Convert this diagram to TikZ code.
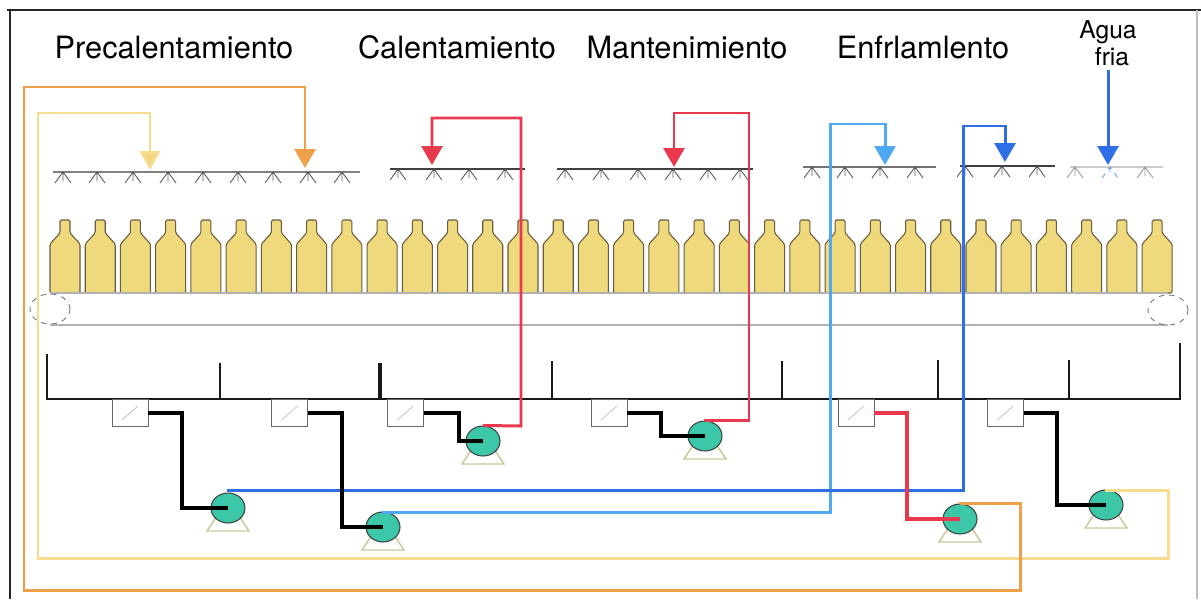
\documentclass[tikz,border=0pt]{standalone}
\usepackage{fontspec}
\setmainfont{TeX Gyre Heros}
\usetikzlibrary{arrows.meta,shapes.geometric}
\definecolor{bottlefill}{HTML}{EED97C}
\definecolor{bottleline}{HTML}{6B5A40}
\definecolor{paleyellow}{HTML}{F6DC8E}
\definecolor{palearrow}{HTML}{F3D680}
\definecolor{pipeorange}{HTML}{EFA04A}
\definecolor{pipered}{HTML}{E8394F}
\definecolor{pipelblue}{HTML}{4FA8F2}
\definecolor{pipeblue}{HTML}{2F6FE5}
\definecolor{pumpteal}{HTML}{3CC7A8}
\definecolor{standcol}{HTML}{C8C89A}
\begin{document}
\begin{tikzpicture}[x=0.02cm,y=-0.02cm,
  title/.style={font=\fontsize{17.5}{20}\selectfont, anchor=base, inner sep=0},
  smalltitle/.style={font=\fontsize{14}{16}\selectfont, anchor=base, inner sep=0},
  bar/.style={draw=black!75, line width=0.7pt},
  nozzle/.style={draw=black!65, line width=0.5pt},
  bottle/.style={draw=bottleline, fill=bottlefill, line width=0.6pt, rounded corners=0.8pt},
  belt/.style={draw=black!30, line width=0.6pt},
  roller/.style={draw=black!55, dashed, line width=0.5pt},
  tank/.style={draw=black!90, line width=1.2pt},
  filterbox/.style={draw=black!60, fill=white, line width=0.5pt, minimum width=0.72cm, minimum height=0.54cm, inner sep=0, anchor=north},
  pump/.style={ellipse, draw=black!75, fill=pumpteal, minimum width=0.68cm, minimum height=0.6cm, inner sep=0, line width=0.6pt},
  stand/.style={draw=standcol, line width=0.8pt},
  pipe/.style={line width=1.7pt, line join=miter},
  blackpipe/.style={draw=black, line width=2.3pt},
  tip/.style={-{Triangle[width=0.42cm,length=0.38cm]}}
]
\useasboundingbox (0,0) rectangle (1201,599);

% outer frame
\draw[black!85, line width=1.3pt] (7,10) -- (1201,10);
\draw[black!85, line width=1.3pt] (10,10) -- (10,599);
\draw[black!25, line width=0.8pt] (1197,10) -- (1197,599);

% section titles
\node[title] (tPre) at (174,58) {Precalentamiento};
\node[title] (tCal) at (457,58) {Calentamiento};
\node[title] (tMan) at (687,58) {Mantenimiento};
\node[title] (tEnf) at (923,58) {Enfrlamlento};
\node[smalltitle] (agua) at (1108,38) {Agua};
\node[smalltitle] (fria) at (1112,65) {fria};

% spray bars with nozzles
\draw[bar, draw=black!50] (53,172) -- (360,172);
\foreach \x in {63,97,133,168,203,238,273,308,342}
  \draw[nozzle] (\x-8,183) -- (\x,172) -- (\x+8,183) (\x,172) -- (\x,181);
\draw[bar] (390,169) -- (525,169);
\foreach \x in {398,434,469,505}
  \draw[nozzle] (\x-8,180) -- (\x,169) -- (\x+8,180) (\x,169) -- (\x,178);
\draw[bar] (557,169) -- (753,169);
\foreach \x in {565,601,638,673,708,740}
  \draw[nozzle] (\x-8,180) -- (\x,169) -- (\x+8,180) (\x,169) -- (\x,178);
\draw[bar, draw=black!55] (803,167) -- (936,167);
\foreach \x in {812,845,880,915}
  \draw[nozzle] (\x-8,178) -- (\x,167) -- (\x+8,178) (\x,167) -- (\x,176);
\draw[bar] (960,166) -- (1055,166);
\foreach \x in {965,1002,1037}
  \draw[nozzle] (\x-8,177) -- (\x,166) -- (\x+8,177) (\x,166) -- (\x,175);
\draw[bar, draw=black!20] (1070,167) -- (1163,167);
\foreach \x in {1075,1145}
  \draw[nozzle, draw=black!40] (\x-8,178) -- (\x,167) -- (\x+8,178) (\x,167) -- (\x,176);
\draw[nozzle, draw=pipeblue!70, dashed] (1102,178) -- (1110,167) -- (1118,178) (1110,167) -- (1110,178);

% bottles on the conveyor
\foreach \i in {0,...,31} {
  \pgfmathsetmacro\cx{65+35.23*\i}
  \draw[bottle] (\cx-15,293) -- (\cx-15,244) -- (\cx-5,233) -- (\cx-5,220)
    -- (\cx+5,220) -- (\cx+5,233) -- (\cx+15,244) -- (\cx+15,293) -- cycle;
}

% conveyor belt and rollers
\draw[belt] (50,293) -- (1168,293);
\draw[belt] (50,325) -- (1168,325);
\draw[roller] (50,309) ellipse [x radius=0.4cm, y radius=0.3cm];
\draw[roller] (1168,310) ellipse [x radius=0.4cm, y radius=0.3cm];

% collecting tank with partitions
\draw[tank] (47,354) -- (47,399) -- (1180,399) -- (1180,343);
\foreach \x/\t in {220/363, 552/361, 782/361, 938/360, 1069/360}
  \draw[tank] (\x,\t) -- (\x,399);
\draw[tank, line width=1.8pt] (380,363) -- (380,399);

% filters below the tank
\foreach \n/\x in {f1/130, f2/289.5, f3/405.5, f4/609, f5/856, f6/1005.5} {
  \node[filterbox] (\n) at (\x,399) {};
  \draw[black!25, line width=0.4pt] (\x-8,420) -- (\x+8,406);
}

% pumps on their stands
\foreach \n/\x/\y in {pA/228/508, pB/383/527, pC/483/441, pD/705/436, pE/960/519, pF/1106/505} {
  \draw[stand] (\x-11,\y+8) -- (\x-21,\y+23) -- (\x+21,\y+23) -- (\x+11,\y+8);
  \node[pump] (\n) at (\x,\y) {};
}

% arrow targets on the spray bars
\coordinate (sPre1) at (150,170);
\coordinate (sPre2) at (305,168);
\coordinate (sCal) at (432,165);
\coordinate (sMan) at (674,167);
\coordinate (sEnf1) at (885,165);
\coordinate (sEnf2) at (1005,162);
\coordinate (sAgua) at (1108,165);

% return pipes from pumps to spray bars
\draw[pipe, draw=paleyellow, tip, -{Triangle[width=0.4cm,length=0.38cm,fill=palearrow]}]
  (pF.north) |- (1168,490) -- (1168,558) -- (38,558) -- (38,113) -| (sPre1);
\draw[pipe, draw=pipeorange, tip]
  (pE.north) |- (1020,503) -- (1020,590) -- (24,590) -- (24,87) -| (sPre2);
\draw[pipe, draw=pipered, tip]
  (pC.north) -- (521,426) -- (521,118) -| (sCal);
\draw[pipe, draw=pipered, tip]
  (pD.north) |- (749,420) -- (749,113) -| (sMan);
\draw[pipe, draw=pipelblue, tip]
  (pB.north) |- (830,512) -- (830,124) -| (sEnf1);
\draw[pipe, draw=pipeblue, tip]
  (pA.north) |- (963,490) -- (963,126) -| (sEnf2);
\draw[pipe, draw=pipeblue, tip] (fria.south) ++(-4,4) -- (sAgua);

% suction pipes from filters to pumps
\draw[blackpipe] (f1.east) -- ++(34,0) |- (pA.center);
\draw[blackpipe] (f2.east) -- ++(34,0) |- (pB.center);
\draw[blackpipe] (f3.east) -- ++(35,0) |- (pC.center);
\draw[blackpipe] (f4.east) -- ++(34,0) |- (pD.center);
\draw[pipe, draw=pipered, line width=2.3pt] (f5.east) -- ++(33,0) |- (pE.center);
\draw[blackpipe] (f6.east) -- ++(33,0) |- (pF.center);
\end{tikzpicture}
\end{document}
